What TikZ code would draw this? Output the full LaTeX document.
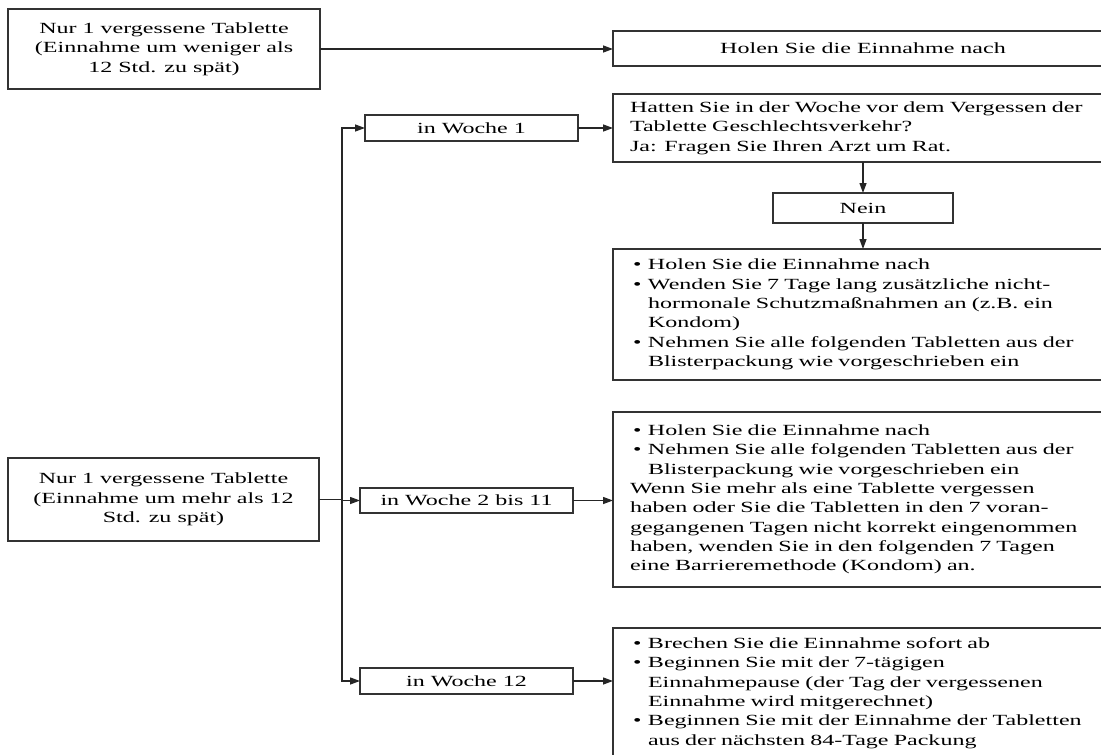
\documentclass[tikz,border=0pt]{standalone}
\usepackage{fontspec}
\setmainfont{Liberation Serif}[FakeStretch=1.55]
\usetikzlibrary{positioning}
\usetikzlibrary{arrows.meta}
\tikzset{
    cbox/.style = {rectangle, draw=black!80, line width=1.3pt, inner sep=0pt, outer sep=0pt, align=center, anchor=north west, font=\fontsize{15.5}{19.3}\selectfont},
    lbox/.style = {cbox, align=left, inner xsep=17pt, text width=493pt},
    edgen/.style = {-{Triangle[length=10pt,width=7pt]}, line width=1.3pt, black!85},
    edgel/.style = {line width=1.3pt, black!85}
}
\newcommand{\blt}{\makebox[18pt][l]{\hspace{3pt}\textbullet}}
\newcommand{\hng}{\hspace*{18pt}}

\begin{document}
\begin{tikzpicture}[x=1pt,y=-1pt]
\useasboundingbox (0,0) rectangle (1101,755);
\clip (0,0) rectangle (1101,755);
%
\node[cbox,minimum width=312pt,minimum height=80pt] at (8,9) (less) {Nur 1 vergessene Tablette\\(Einnahme um weniger als\\12 Std. zu spät)};
\node[cbox,minimum width=500pt,minimum height=35pt] at (613,31) (nach) {Holen Sie die Einnahme nach};
%
\node[cbox,minimum width=213pt,minimum height=26pt] at (365,115) (w1) {in Woche 1};
\node[lbox,minimum height=68pt] at (613,94) (frage) {Hatten Sie in der Woche vor dem Vergessen der\\Tablette Geschlechtsverkehr?\\Ja: Fragen Sie Ihren Arzt um Rat.};
\node[cbox,minimum width=180pt,minimum height=30pt] at (773,193) (nein) {Nein};
\node[lbox,minimum height=131pt] at (613,249) (massn) {\blt Holen Sie die Einnahme nach\\
\blt Wenden Sie 7 Tage lang zusätzliche nicht-\\
\hng hormonale Schutzmaßnahmen an (z.B. ein\\
\hng Kondom)\\
\blt Nehmen Sie alle folgenden Tabletten aus der\\
\hng Blisterpackung wie vorgeschrieben ein};
%
\node[cbox,minimum width=311pt,minimum height=83pt] at (8,458) (more) {Nur 1 vergessene Tablette\\(Einnahme um mehr als 12\\Std. zu spät)};
\node[cbox,minimum width=213pt,minimum height=25pt] at (360,488) (w2) {in Woche 2 bis 11};
\node[lbox,minimum height=175pt] at (613,412) (regel) {\blt Holen Sie die Einnahme nach\\
\blt Nehmen Sie alle folgenden Tabletten aus der\\
\hng Blisterpackung wie vorgeschrieben ein\\
Wenn Sie mehr als eine Tablette vergessen\\
haben oder Sie die Tabletten in den 7 voran-\\
gegangenen Tagen nicht korrekt eingenommen\\
haben, wenden Sie in den folgenden 7 Tagen\\
eine Barrieremethode (Kondom) an.};
%
\node[cbox,minimum width=213pt,minimum height=26pt] at (360,668) (w12) {in Woche 12};
\node[lbox,minimum height=130pt] at (613,628) (pause) {\blt Brechen Sie die Einnahme sofort ab\\
\blt Beginnen Sie mit der 7-tägigen\\
\hng Einnahmepause (der Tag der vergessenen\\
\hng Einnahme wird mitgerechnet)\\
\blt Beginnen Sie mit der Einnahme der Tabletten\\
\hng aus der nächsten 84-Tage Packung};
%
\coordinate (jct) at (342,499.5);
%
\draw[edgen] (less.east) -- (less.east -| nach.west);
\draw[edgel] (more.east) -- (jct);
\draw[edgen] (jct) |- (w1.west);
\draw[edgen] (jct) |- (w2.west);
\draw[edgen] (jct) |- (w12.west);
\draw[edgen] (w1.east) -- (w1.east -| frage.west);
\draw[edgen] (w2.east) -- (w2.east -| regel.west);
\draw[edgen] (w12.east) -- (w12.east -| pause.west);
\draw[edgen] (nein.north |- frage.south) -- (nein.north);
\draw[edgen] (nein.south) -- (nein.south |- massn.north);

\end{tikzpicture}
\end{document}
